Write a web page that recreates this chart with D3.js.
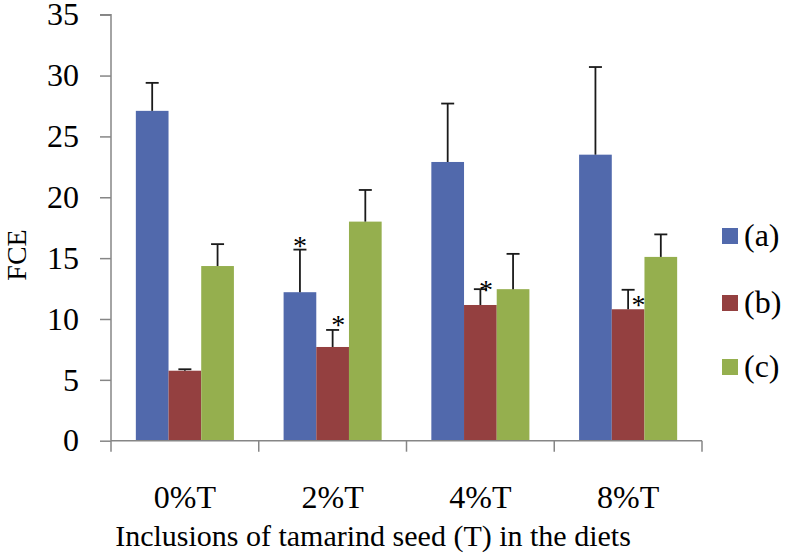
<!DOCTYPE html>
<html>
<head>
<meta charset="utf-8">
<script src="https://cdn.jsdelivr.net/npm/d3@7"></script>
<style>
  html, body { margin: 0; padding: 0; background: #fff; }
  svg { display: block; font-family: "Liberation Serif", "Times New Roman", serif; }
</style>
</head>
<body>
<svg id="chart" width="787" height="554"></svg>
<script>
// ---- data ----
const categories = ["0%T", "2%T", "4%T", "8%T"];
const seriesNames = ["(a)", "(b)", "(c)"];
const valuesA = [27.1, 12.2, 22.9, 23.5];
const valuesB = [5.75, 7.7, 11.15, 10.8];
const valuesC = [14.35, 18.0, 12.45, 15.1];
const errorsA = [2.3, 3.5, 4.8, 7.2];
const errorsB = [0.12, 1.4, 1.3, 1.6];
const errorsC = [1.8, 2.6, 2.9, 1.85];
const starsA = [false, true, false, false];
const starsB = [false, true, true, true];
const yTicks = [0, 5, 10, 15, 20, 25, 30, 35];
const yLabel = "FCE";
const xLabel = "Inclusions of tamarind seed (T) in the diets";

const colors = ["#5169AC", "#944040", "#95AF4E"];
const seriesValues = [valuesA, valuesB, valuesC];
const seriesErrors = [errorsA, errorsB, errorsC];
const seriesStars = [starsA, starsB, [false, false, false, false]];

const svg = d3.select("#chart");
const mLeft = 111, mRight = 702, mTop = 14.7, mBottom = 440.7;

const y = d3.scaleLinear().domain([0, 35]).range([mBottom, mTop]);
const x0 = d3.scaleBand().domain(categories).range([mLeft, mRight]).paddingInner(0).paddingOuter(0);
const x1 = d3.scaleBand().domain(seriesNames).range([0, x0.bandwidth()]).paddingInner(0).paddingOuter(0.76);

const rows = [];
categories.forEach((c, i) => {
  seriesNames.forEach((s, j) => {
    rows.push({cat: c, ser: s, j, v: seriesValues[j][i], e: seriesErrors[j][i], star: seriesStars[j][i]});
  });
});

// bars
svg.append("g").selectAll("rect").data(rows).join("rect")
  .attr("x", d => x0(d.cat) + x1(d.ser))
  .attr("y", d => y(d.v))
  .attr("width", x1.bandwidth())
  .attr("height", d => y(0) - y(d.v))
  .attr("fill", d => colors[d.j]);

// error bars
const eg = svg.append("g").attr("stroke", "#1a1a1a").attr("stroke-width", 1.8);
rows.forEach(d => {
  const cx = x0(d.cat) + x1(d.ser) + x1.bandwidth() / 2;
  eg.append("line").attr("x1", cx).attr("x2", cx).attr("y1", y(d.v)).attr("y2", y(d.v + d.e));
  eg.append("line").attr("x1", cx - 6.5).attr("x2", cx + 6.5).attr("y1", y(d.v + d.e)).attr("y2", y(d.v + d.e));
});

// stars (offsets relative to the error-bar cap)
const starOffsets = {"2%T(a)": [0, 5], "2%T(b)": [5.5, 4], "4%T(b)": [5.6, 9.7], "8%T(b)": [10.4, 24.7]};
rows.filter(d => d.star).forEach(d => {
  const cx = x0(d.cat) + x1(d.ser) + x1.bandwidth() / 2;
  const off = starOffsets[d.cat + d.ser] || [0, 5];
  svg.append("text")
    .attr("x", cx + off[0])
    .attr("y", y(d.v + d.e) + off[1])
    .attr("text-anchor", "middle")
    .attr("font-size", 28)
    .attr("fill", "#000")
    .text("*");
});

// y axis
const yAxis = svg.append("g").attr("transform", `translate(${mLeft},0)`)
  .call(d3.axisLeft(y).tickValues(yTicks).tickSize(11).tickPadding(21).tickFormat(d3.format("d")));
yAxis.select(".domain").attr("stroke", "#868686").attr("stroke-width", 1.5).attr("d", `M-11,${mTop}H0V${mBottom}`);
yAxis.selectAll(".tick line").attr("stroke", "#868686").attr("stroke-width", 1.5);
yAxis.selectAll(".tick text").attr("font-size", 32).attr("fill", "#000").attr("font-family", "Liberation Serif");

// x axis
const xg = svg.append("g");
xg.append("line").attr("x1", mLeft).attr("x2", mRight).attr("y1", mBottom).attr("y2", mBottom)
  .attr("stroke", "#868686").attr("stroke-width", 1.5);
const bounds = categories.map(c => x0(c)).concat([x0(categories[categories.length - 1]) + x0.bandwidth()]);
xg.selectAll("line.tk").data(bounds).join("line").attr("class", "tk")
  .attr("x1", d => d).attr("x2", d => d).attr("y1", mBottom).attr("y2", mBottom + 11)
  .attr("stroke", "#868686").attr("stroke-width", 1.5);
xg.selectAll("text").data(categories).join("text")
  .attr("x", d => x0(d) + x0.bandwidth() / 2)
  .attr("y", 508)
  .attr("text-anchor", "middle")
  .attr("font-size", 32)
  .text(d => d);

// axis titles
svg.append("text").attr("x", 373).attr("y", 546).attr("text-anchor", "middle")
  .attr("font-size", 30).text(xLabel);
svg.append("text").attr("transform", "translate(26,255) rotate(-90)").attr("text-anchor", "middle")
  .attr("font-size", 28).text(yLabel);

// legend
const legendY = [236, 303, 367];
const lg = svg.append("g");
seriesNames.forEach((s, j) => {
  lg.append("rect").attr("x", 722).attr("y", legendY[j] - 8).attr("width", 16).attr("height", 16).attr("fill", colors[j]);
  lg.append("text").attr("x", 744).attr("y", legendY[j] + 10).attr("font-size", 32).text(s);
});
</script>
</body>
</html>
